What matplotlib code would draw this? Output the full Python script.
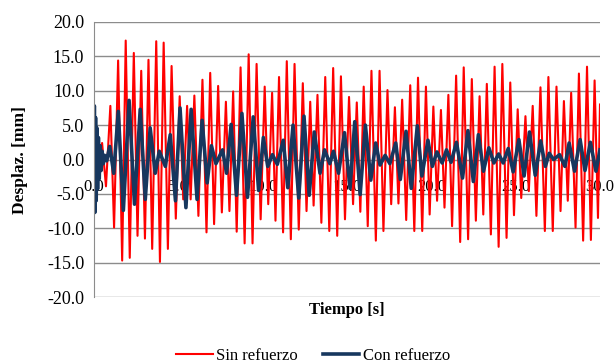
import matplotlib
matplotlib.use("Agg")
import matplotlib.pyplot as plt
from matplotlib.ticker import FormatStrFormatter, MultipleLocator

# peaks and troughs, time in s, displacement in mm
red_t = [0.00, 0.25, 0.48, 0.71, 0.97, 1.19, 1.43, 1.67, 1.88, 2.12,
         2.36, 2.58, 2.80, 3.02, 3.23, 3.45, 3.69, 3.91, 4.13, 4.38,
         4.60, 4.85, 5.08, 5.29, 5.52, 5.73, 5.95, 6.19, 6.43, 6.67,
         6.89, 7.12, 7.36, 7.58, 7.82, 8.03, 8.25, 8.46, 8.69, 8.93,
         9.17, 9.40, 9.64, 9.88, 10.12, 10.33, 10.56, 10.76, 10.97, 11.21,
         11.43, 11.67, 11.89, 12.14, 12.38, 12.60, 12.82, 13.02, 13.25, 13.48,
         13.71, 13.95, 14.18, 14.42, 14.64, 14.88, 15.12, 15.36, 15.58, 15.79,
         15.99, 16.23, 16.45, 16.71, 16.93, 17.16, 17.40, 17.62, 17.84, 18.05,
         18.27, 18.51, 18.75, 18.99, 19.21, 19.46, 19.68, 19.90, 20.12, 20.34,
         20.57, 20.78, 21.01, 21.23, 21.47, 21.71, 21.92, 22.18, 22.40, 22.64,
         22.86, 23.08, 23.29, 23.53, 23.75, 23.99, 24.21, 24.46, 24.68, 24.90,
         25.12, 25.33, 25.58, 25.78, 26.01, 26.23, 26.47, 26.73, 26.94, 27.20,
         27.42, 27.66, 27.86, 28.09, 28.29, 28.55, 28.75, 29.00, 29.23, 29.46,
         29.68, 29.88, 30.00]
red_y = [0.0, -1.5, 2.4, -3.9, 7.8, -9.9, 14.4, -14.7, 17.3, -14.3,
         15.5, -11.1, 12.9, -11.5, 14.5, -13.0, 17.2, -14.9, 17.0, -13.0,
         13.6, -8.6, 9.2, -5.8, 7.8, -5.8, 9.3, -8.2, 11.6, -10.6,
         12.6, -9.4, 10.7, -7.7, 8.4, -7.5, 9.9, -10.5, 13.4, -12.2,
         15.3, -12.2, 13.9, -8.7, 10.6, -6.5, 9.7, -8.9, 12.0, -10.6,
         14.3, -11.6, 13.9, -10.2, 11.1, -7.5, 8.4, -6.7, 9.4, -9.2,
         12.0, -10.4, 13.3, -11.1, 12.1, -8.7, 9.1, -6.5, 8.3, -7.6,
         10.6, -9.7, 12.9, -11.8, 12.9, -10.4, 10.1, -6.5, 7.6, -6.4,
         8.7, -8.8, 10.8, -10.4, 11.9, -10.4, 10.6, -8.0, 7.7, -6.0,
         7.2, -7.0, 9.4, -9.7, 12.2, -12.0, 13.4, -11.6, 11.7, -8.9,
         9.2, -8.0, 11.0, -10.9, 13.5, -12.7, 13.9, -11.4, 11.2, -8.1,
         7.3, -5.6, 6.3, -4.6, 7.8, -8.2, 10.5, -10.4, 12.0, -10.4,
         10.6, -7.5, 8.5, -6.0, 9.7, -9.9, 12.5, -11.8, 13.5, -11.7,
         11.5, -8.5, 8.0]

navy_t = [0.00, 0.02, 0.05, 0.09, 0.13, 0.17, 0.21, 0.26, 0.31, 0.36,
          0.42, 0.48, 0.55, 0.63, 0.75, 0.93, 1.17, 1.44, 1.74, 2.08,
          2.40, 2.74, 3.04, 3.33, 3.63, 3.87, 4.23, 4.52, 4.83, 5.10,
          5.45, 5.76, 6.11, 6.41, 6.71, 6.96, 7.23, 7.62, 7.86, 8.13,
          8.45, 8.77, 9.10, 9.44, 9.76, 10.04, 10.30, 10.58, 10.87, 11.22,
          11.49, 11.80, 12.14, 12.45, 12.76, 13.06, 13.40, 13.67, 13.98, 14.20,
          14.50, 14.85, 15.18, 15.46, 15.78, 16.09, 16.41, 16.70, 16.96, 17.26,
          17.54, 17.89, 18.16, 18.50, 18.81, 19.17, 19.44, 19.80, 20.06, 20.33,
          20.64, 20.90, 21.17, 21.49, 21.85, 22.17, 22.49, 22.79, 23.09, 23.41,
          23.71, 23.99, 24.26, 24.56, 24.85, 25.19, 25.50, 25.82, 26.16, 26.48,
          26.76, 26.99, 27.25, 27.60, 27.92, 28.17, 28.49, 28.82, 29.11, 29.43,
          29.76, 30.00]
navy_y = [0.0, 7.8, -7.7, 6.1, -6.0, 4.6, -4.3, 3.2, -2.8, 2.0,
          -1.6, 1.2, -0.6, 0.6, -0.2, 1.9, -2.0, 7.0, -7.4, 8.6,
          -6.5, 7.3, -5.8, 4.6, -2.0, 1.2, -1.0, 3.6, -6.0, 7.5,
          -7.0, 7.3, -5.8, 5.7, -3.4, 2.0, -0.6, 1.4, -2.0, 5.1,
          -5.2, 6.7, -5.5, 6.2, -4.5, 3.2, -1.0, 0.7, -0.7, 2.8,
          -4.1, 5.0, -5.6, 6.3, -5.2, 4.0, -2.0, 1.4, -0.6, 1.2,
          -2.0, 3.9, -4.2, 5.5, -5.1, 5.0, -3.0, 2.4, -0.8, 0.6,
          -0.6, 2.4, -2.9, 4.1, -4.2, 4.9, -2.4, 2.8, -1.0, 1.1,
          -0.5, 1.4, -0.4, 2.5, -2.7, 4.2, -3.2, 3.6, -1.7, 1.7,
          -0.5, 0.8, -0.5, 1.6, -1.8, 2.9, -2.4, 4.0, -2.3, 2.7,
          -1.0, 0.9, 0.0, 0.7, -1.0, 2.4, -1.7, 2.9, -1.6, 2.5,
          -1.7, 1.4]

plt.rcParams['font.family'] = ['Liberation Serif', 'DejaVu Serif']

fig = plt.figure(figsize=(6.15, 3.62), dpi=100)
ax = fig.add_axes([94 / 615, 1 - 297 / 362, 506 / 615, 275 / 362])

ax.plot(red_t, red_y, color='#ff0000', lw=1.5, label='Sin refuerzo')
ax.plot(navy_t, navy_y, color='#17375e', lw=2.6, label='Con refuerzo')

ax.set_xlim(0, 30)
ax.set_ylim(-20, 20)
ax.xaxis.set_major_locator(MultipleLocator(5))
ax.yaxis.set_major_locator(MultipleLocator(5))
ax.xaxis.set_major_formatter(FormatStrFormatter('%.1f'))
ax.yaxis.set_major_formatter(FormatStrFormatter('%.1f'))

ax.set_axisbelow(True)
ax.grid(axis='y', color='#8c8c8c', lw=1.0)
for s in ['top', 'right']:
    ax.spines[s].set_visible(False)
ax.spines['left'].set_color('#8c8c8c')
ax.spines['bottom'].set_position(('data', 0))
ax.spines['bottom'].set_visible(False)
ax.tick_params(axis='x', length=0, pad=14, labelsize=12)
ax.tick_params(axis='y', length=0, pad=7, labelsize=13)

fig.text(20 / 615, 1 - 160 / 362, 'Desplaz. [mm]', rotation=90, fontsize=12.5,
         fontweight='bold', ha='center', va='center')
fig.text(347 / 615, 1 - 310 / 362, 'Tiempo [s]', fontsize=12,
         fontweight='bold', ha='center', va='center')

fig.legend(loc='center', bbox_to_anchor=(313 / 615, 1 - 356 / 362), ncol=2,
           frameon=False, fontsize=12, handlelength=2.2, handletextpad=0.2,
           columnspacing=1.5)

fig.savefig('out.png', dpi=100)
